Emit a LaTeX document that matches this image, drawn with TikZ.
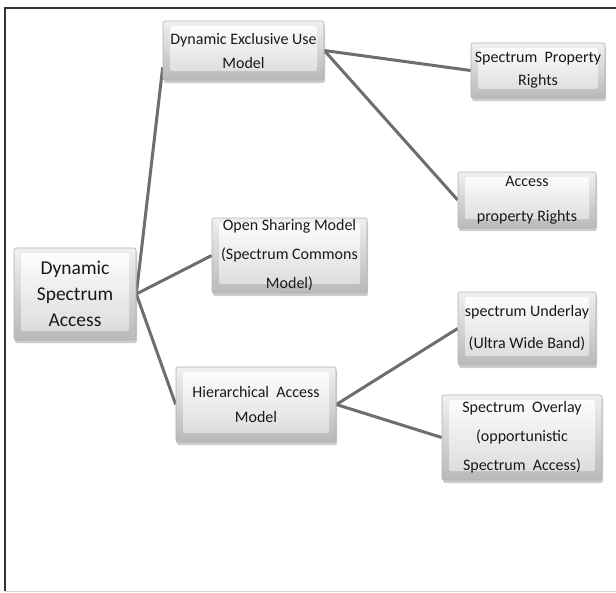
\documentclass[tikz,border=0pt]{standalone}
\usepackage{fontspec}
\setmainfont{Carlito}
\usetikzlibrary{shadows,backgrounds,calc}
\definecolor{edgegray}{HTML}{6E6E6E}
\tikzset{
  bevelbox/.style={draw=gray!60, line width=0.6pt, rounded corners=2pt,
    top color=gray!12, bottom color=gray!55,
    drop shadow={shadow xshift=1pt, shadow yshift=-3pt, opacity=0.4, fill=gray},
    inner sep=0pt, align=center, text=black!90,
    font=\fontsize{16}{26}\selectfont,
    path picture={\shade[top color=white, bottom color=gray!30]
      ($(path picture bounding box.south west)+(7pt,9pt)$) rectangle
      ($(path picture bounding box.north east)+(-7pt,-5pt)$);}},
  link/.style={draw=edgegray, line width=3pt},
}
\begin{document}
\begin{tikzpicture}[x=1pt,y=-1pt]
\useasboundingbox (0,0) rectangle (616,592);
\draw[black!80, line width=1.3pt] (616,8) -- (5,8) -- (5,591);
\draw[gray!35, line width=0.8pt] (5,591) -- (616,591);

\node[bevelbox, minimum width=122pt, minimum height=92pt, font=\fontsize{19.5}{26}\selectfont] (dsa) at (75,294) {Dynamic\\Spectrum\\Access};
\node[bevelbox, minimum width=161pt, minimum height=59pt, font=\fontsize{16}{24}\selectfont] (deu) at (243.5,50.5) {Dynamic Exclusive Use\\Model};
\node[bevelbox, minimum width=134pt, minimum height=55pt, font=\fontsize{16}{23}\selectfont] (spr) at (538,70.5) {Spectrum\ \ Property\\Rights};
\node[bevelbox, minimum width=138pt, minimum height=56pt, font=\fontsize{16}{35}\selectfont] (apr) at (527,200) {Access\\property Rights};
\node[bevelbox, minimum width=155pt, minimum height=75pt, font=\fontsize{16}{29}\selectfont] (osm) at (289.5,255.5) {Open Sharing Model\\(Spectrum Commons\\Model)};
\node[bevelbox, minimum width=160pt, minimum height=75pt, font=\fontsize{16}{25}\selectfont] (ham) at (256,404.5) {Hierarchical\ \ Access\\Model};
\node[bevelbox, minimum width=138pt, minimum height=73pt, font=\fontsize{16}{32}\selectfont] (su) at (527,328.5) {spectrum Underlay\\(Ultra Wide Band)};
\node[bevelbox, minimum width=160pt, minimum height=85pt, font=\fontsize{16}{29}\selectfont] (so) at (522,437.5) {Spectrum\ \ Overlay\\(opportunistic\\Spectrum\ \ Access)};

\begin{pgfonlayer}{background}
\draw[link] (dsa.east) -- ([yshift=13pt]deu.south west);
\draw[link] (dsa.east) -- (osm.west);
\draw[link] (dsa.east) -- (ham.west);
\draw[link] (deu.east) -- (spr.west);
\draw[link] (deu.east) -- (apr.west);
\draw[link] (ham.east) -- (su.west);
\draw[link] (ham.east) -- (so.west);
\end{pgfonlayer}
\end{tikzpicture}
\end{document}
